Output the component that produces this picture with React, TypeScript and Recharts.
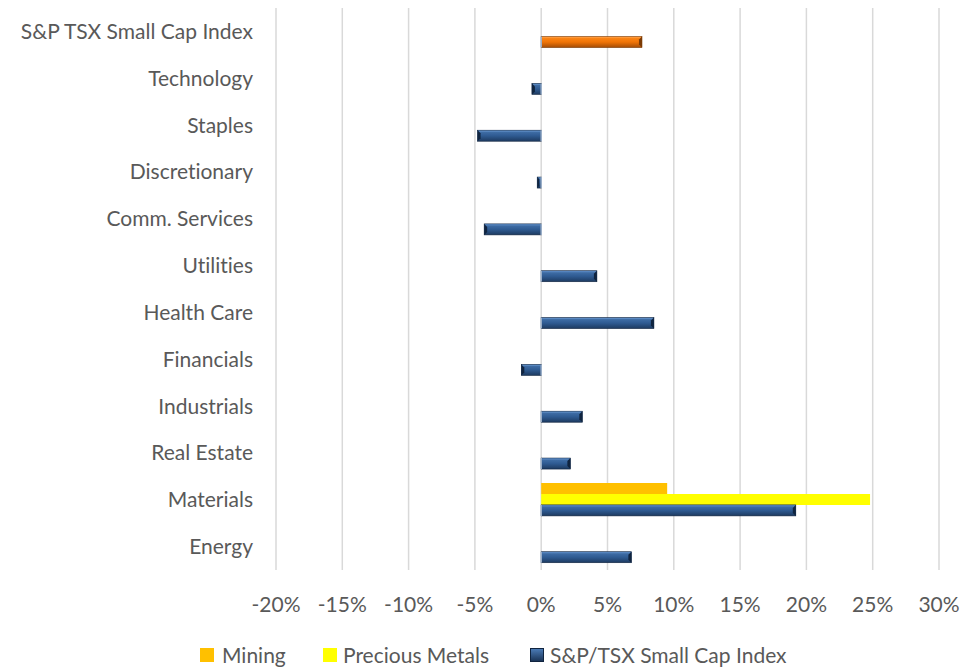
import React from 'react';
import { BarChart, Bar, XAxis, YAxis, CartesianGrid, Cell, Legend } from 'recharts';

const categories = ['S&P TSX Small Cap Index', 'Technology', 'Staples', 'Discretionary', 'Comm. Services', 'Utilities', 'Health Care', 'Financials', 'Industrials', 'Real Estate', 'Materials', 'Energy'];
const miningValues: (number | null)[] = [null, null, null, null, null, null, null, null, null, null, 9.5, null];
const preciousValues: (number | null)[] = [null, null, null, null, null, null, null, null, null, null, 24.8, null];
const indexValues: number[] = [7.6, -0.7, -4.8, -0.3, -4.3, 4.2, 8.5, -1.5, 3.1, 2.2, 19.2, 6.8];
const xTicks = [-20, -15, -10, -5, 0, 5, 10, 15, 20, 25, 30];

const seriesNames = ['Mining', 'Precious Metals', 'S&P/TSX Small Cap Index'];
const seriesColors = ['#FFC000', '#FFFF00', '#2F5B92'];

const data = categories.map((c, i) => ({
  name: c,
  mining: miningValues[i],
  precious: preciousValues[i],
  index: indexValues[i],
}));

const FONT = 'Lato, "Open Sans", sans-serif';
const FS = 21;

const BevelBar = (props: any) => {
  const { x, y, width, height, index } = props;
  if (width == null || height == null) return null;
  const x0 = Math.min(x, x + width);
  const w = Math.abs(width);
  const orange = index === 0;
  const grad = orange ? 'url(#gOrange)' : 'url(#gBlue)';
  const edge = orange ? '#7A3A05' : '#10243F';
  const light = orange ? '#FF9A3A' : '#5C8BC4';
  const b = Math.min(3, w / 2);
  const positive = width >= 0;
  const endX = positive ? x0 + w : x0;
  const baseX = positive ? x0 : x0 + w;
  const inner = positive ? endX - b : endX + b;
  return (
    <g>
      <rect x={x0} y={y} width={w} height={height} fill={grad} stroke={edge} strokeWidth={0.6} />
      <line x1={x0 + 1} y1={y + 1} x2={x0 + w - 1} y2={y + 1} stroke={light} strokeWidth={1} />
      <line x1={baseX} y1={y} x2={baseX} y2={y + height} stroke="#9FB3CC" strokeWidth={1.5} />
      <polygon points={`${endX},${y} ${inner},${y + b} ${inner},${y + height - b} ${endX},${y + height}`} fill={edge} />
    </g>
  );
};

const squareLeft = [200, 323, 530];
const textLeft = [222, 343, 550];

const LegendContent = () => (
  <div style={{ position: 'relative', width: 966, height: 30, fontFamily: FONT, fontSize: FS, color: '#595959', fontVariantLigatures: 'none' }}>
    {seriesNames.map((n, i) => (
      <React.Fragment key={n}>
        <div style={{ position: 'absolute', left: squareLeft[i], top: 11, width: 14, height: 14, background: i === 2 ? 'linear-gradient(#4A7AB5,#1B3558)' : seriesColors[i], border: i === 2 ? '1px solid #10243F' : 'none', boxSizing: 'border-box' }} />
        <span style={{ position: 'absolute', left: textLeft[i], top: 4, lineHeight: '28px', whiteSpace: 'nowrap' }}>{n}</span>
      </React.Fragment>
    ))}
  </div>
);

export default function App() {
  return (
    <div style={{ position: 'absolute', left: 0, top: 0, background: '#fff' }}>
      <style>{`text { font-variant-ligatures: none; }`}</style>
      <BarChart
        width={966}
        height={667}
        data={data}
        layout="vertical"
        margin={{ top: 8, right: 27, bottom: 0, left: 0 }}
        barCategoryGap="14%"
        barGap={0}
      >
        <defs>
          <linearGradient id="gBlue" x1="0" y1="0" x2="0" y2="1">
            <stop offset="0" stopColor="#4675AE" />
            <stop offset="0.5" stopColor="#2F5B92" />
            <stop offset="1" stopColor="#1D3A60" />
          </linearGradient>
          <linearGradient id="gOrange" x1="0" y1="0" x2="0" y2="1">
            <stop offset="0" stopColor="#FF8A1A" />
            <stop offset="0.5" stopColor="#F07406" />
            <stop offset="1" stopColor="#A34C06" />
          </linearGradient>
        </defs>
        <CartesianGrid horizontal={false} vertical={true} stroke="#D9D9D9" strokeWidth={1.5} />
        <XAxis
          type="number"
          domain={[-20, 30]}
          ticks={xTicks}
          tickFormatter={(v: number) => `${v}%`}
          axisLine={false}
          tickLine={false}
          tickMargin={21}
          height={67}
          tick={{ fill: '#595959', fontSize: FS, fontFamily: FONT }}
          interval={0}
        />
        <YAxis
          type="category"
          dataKey="name"
          width={276}
          axisLine={false}
          tickLine={false}
          tickMargin={17}
          tick={{ fill: '#595959', fontSize: FS, fontFamily: FONT }}
          interval={0}
        />
        <Legend verticalAlign="bottom" height={30} wrapperStyle={{ left: 0, width: 966 }} content={<LegendContent />} />
        <Bar dataKey="mining" name="Mining" fill="#FFC000" isAnimationActive={false} />
        <Bar dataKey="precious" name="Precious Metals" fill="#FFFF00" isAnimationActive={false} />
        <Bar dataKey="index" name="S&P/TSX Small Cap Index" fill="#2F5B92" isAnimationActive={false} shape={<BevelBar />}>
          {data.map((d, i) => (
            <Cell key={d.name} fill={i === 0 ? '#F07406' : '#2F5B92'} />
          ))}
        </Bar>
      </BarChart>
    </div>
  );
}
